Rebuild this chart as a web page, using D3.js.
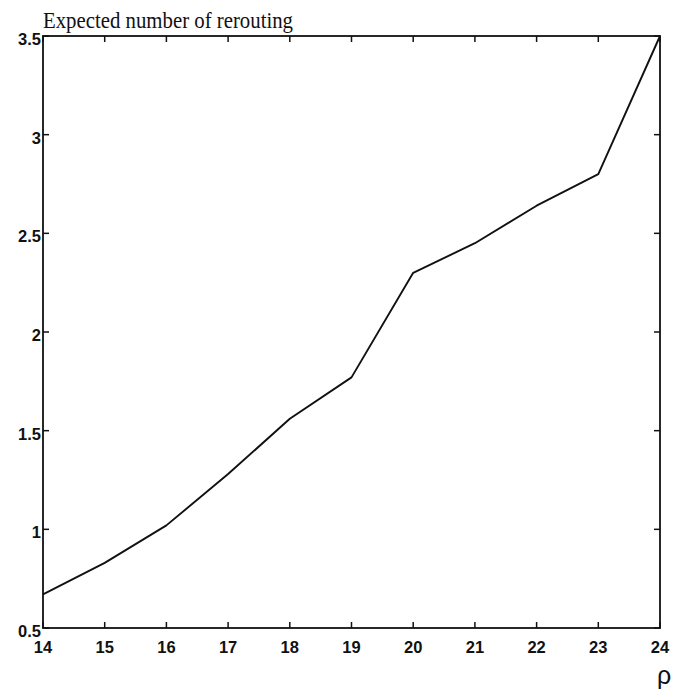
<!DOCTYPE html>
<html>
<head>
<meta charset="utf-8">
<script src="https://cdn.jsdelivr.net/npm/d3@7"></script>
<style>
  html, body { margin: 0; padding: 0; background: #fff; }
  svg { display: block; }
</style>
</head>
<body>
<svg id="chart" width="689" height="690"></svg>
<script>
// Load factor rho and expected number of reroutings
const rho = [14, 15, 16, 17, 18, 19, 20, 21, 22, 23, 24];
const reroutes = [0.67, 0.83, 1.02, 1.28, 1.56, 1.77, 2.30, 2.45, 2.64, 2.80, 3.5];
const xTicks = [14, 15, 16, 17, 18, 19, 20, 21, 22, 23, 24];
const yTicks = [0.5, 1, 1.5, 2, 2.5, 3, 3.5];

const svg = d3.select("#chart");
const m = { left: 43, right: 660, top: 36, bottom: 628 };

const x = d3.scaleLinear().domain([14, 24]).range([m.left, m.right]);
const y = d3.scaleLinear().domain([0.5, 3.5]).range([m.bottom, m.top]);

const tickFont = "Liberation Sans, Arial, sans-serif";
const tickLen = 6;

// Box frame
svg.append("rect")
  .attr("x", m.left).attr("y", m.top)
  .attr("width", m.right - m.left).attr("height", m.bottom - m.top)
  .attr("fill", "none").attr("stroke", "#111").attr("stroke-width", 1.8);

// Inward ticks on all four sides
const g = svg.append("g").attr("stroke", "#111").attr("stroke-width", 1.5);
xTicks.forEach(t => {
  g.append("line").attr("x1", x(t)).attr("x2", x(t)).attr("y1", m.bottom).attr("y2", m.bottom - tickLen);
  g.append("line").attr("x1", x(t)).attr("x2", x(t)).attr("y1", m.top).attr("y2", m.top + tickLen);
});
yTicks.forEach(t => {
  g.append("line").attr("x1", m.left).attr("x2", m.left + tickLen).attr("y1", y(t)).attr("y2", y(t));
  g.append("line").attr("x1", m.right).attr("x2", m.right - tickLen).attr("y1", y(t)).attr("y2", y(t));
});

// Tick labels
svg.append("g").selectAll("text").data(xTicks).join("text")
  .attr("x", d => x(d)).attr("y", m.bottom + 25)
  .attr("text-anchor", "middle")
  .attr("font-family", tickFont).attr("font-size", 16.5).attr("font-weight", "bold")
  .attr("fill", "#111")
  .text(d => d);

svg.append("g").selectAll("text").data(yTicks).join("text")
  .attr("x", m.left - 2).attr("y", d => y(d) + 9)
  .attr("text-anchor", "end")
  .attr("font-family", tickFont).attr("font-size", 16.5).attr("font-weight", "bold")
  .attr("fill", "#111")
  .text(d => d);

// Data line
const line = d3.line().x((d, i) => x(rho[i])).y(d => y(d));
svg.append("path")
  .datum(reroutes)
  .attr("d", line)
  .attr("fill", "none")
  .attr("stroke", "#111")
  .attr("stroke-width", 1.9)
  .attr("stroke-linejoin", "round");

// Titles
svg.append("text")
  .attr("x", 43).attr("y", 28)
  .attr("font-family", "Liberation Serif, Times New Roman, serif")
  .attr("font-size", 23)
  .attr("textLength", 250)
  .attr("lengthAdjust", "spacingAndGlyphs")
  .attr("fill", "#111")
  .text("Expected number of rerouting");

svg.append("text")
  .attr("x", 664).attr("y", 684)
  .attr("text-anchor", "middle")
  .attr("font-family", tickFont)
  .attr("font-size", 25)
  .attr("fill", "#111")
  .text("ρ");
</script>
</body>
</html>
